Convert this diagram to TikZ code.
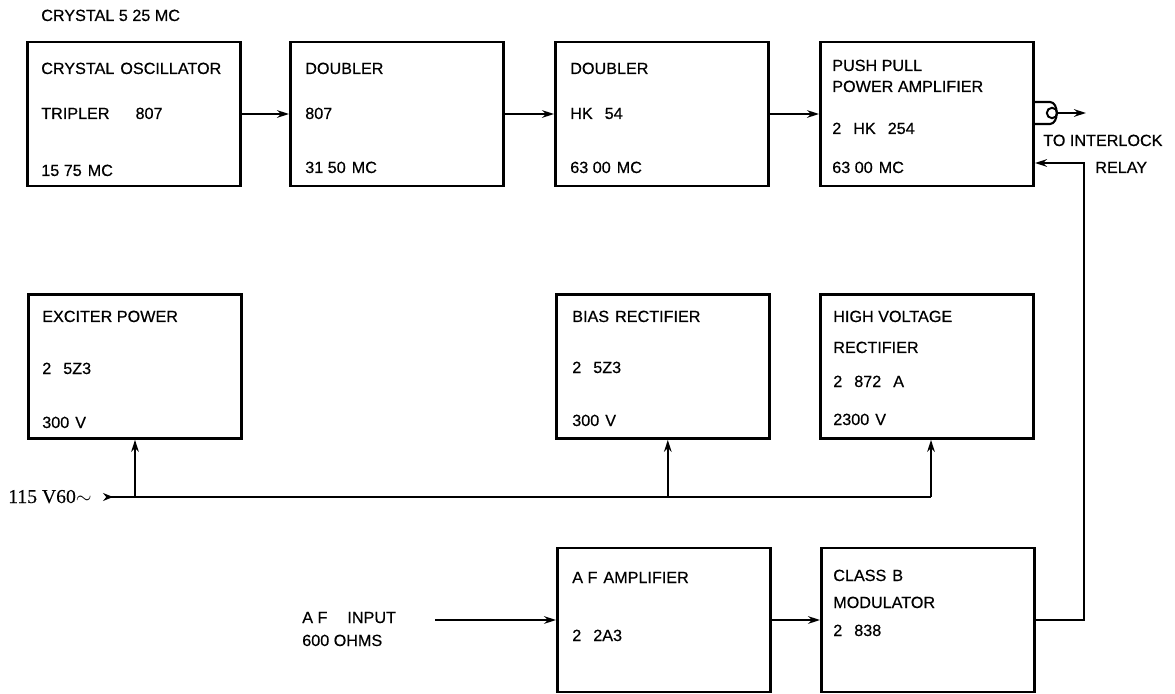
\documentclass[tikz,border=0pt]{standalone}
\usepackage{fontspec}
\setmainfont{Liberation Sans}[FakeBold=0.5]
\newfontfamily\mainsfont{Liberation Serif}[FakeBold=0.3]
\usetikzlibrary{arrows.meta}
\tikzset{
  blockbox/.style={draw, line width=1.9pt, minimum width=5.33cm, minimum height=3.6cm,
                   inner sep=0pt},
  boxtext/.style={font=\fontsize{11.5}{13}\selectfont, inner sep=0pt, anchor=base west},
  wire/.style={line width=1.5pt},
  arr/.style={wire, -{Stealth[length=3mm, width=1.9mm]}},
}

\begin{document}
\begin{tikzpicture}[x=0.025cm, y=-0.025cm]
    \useasboundingbox (0,0) rectangle (1175,694);
    % transmitter chain
    \node[blockbox] (osc) at (134, 114) {};
    \node[blockbox] (dbla) at (397, 114) {};
    \node[blockbox] (dblb) at (662, 114) {};
    \node[blockbox] (pa) at (927, 114) {};
    % power supplies
    \node[blockbox] (exc) at (135, 366.5) {};
    \node[blockbox] (bias) at (663, 366.5) {};
    \node[blockbox] (hv) at (927, 366.5) {};
    % audio
    \node[blockbox] (afamp) at (664, 620) {};
    \node[blockbox] (modb) at (928, 620) {};

    \node[boxtext] (xtal) at (41, 21) {CRYSTAL 5 25 MC};
    \node[boxtext] (osc1) at (41, 74) {CRYSTAL\hspace{1.5mm}OSCILLATOR};
    \node[boxtext] (osc2) at (41, 119) {TRIPLER\hspace{6.5mm}807};
    \node[boxtext] (osc3) at (41, 176) {15 75\hspace{1.5mm}MC};
    \node[boxtext] (dbla1) at (305, 74) {DOUBLER};
    \node[boxtext] (dbla2) at (305, 119) {807};
    \node[boxtext] (dbla3) at (305, 173) {31 50\hspace{1.5mm}MC};
    \node[boxtext] (dblb1) at (570, 74) {DOUBLER};
    \node[boxtext] (dblb2) at (570, 119) {HK\hspace{3mm}54};
    \node[boxtext] (dblb3) at (570, 173) {63 00\hspace{1.5mm}MC};
    \node[boxtext] (pa1) at (832, 71) {PUSH PULL};
    \node[boxtext] (pa2) at (832, 92) {POWER AMPLIFIER};
    \node[boxtext] (pa3) at (832, 134) {2\hspace{3mm}HK\hspace{3mm}254};
    \node[boxtext] (pa4) at (832, 173) {63 00\hspace{1.5mm}MC};
    \node[boxtext] (exc1) at (42, 322) {EXCITER POWER};
    \node[boxtext] (exc2) at (42, 374) {2\hspace{3mm}5Z3};
    \node[boxtext] (exc3) at (42, 428) {300\hspace{1.5mm}V};
    \node[boxtext] (bias1) at (572, 322) {BIAS\hspace{1.5mm}RECTIFIER};
    \node[boxtext] (bias2) at (572, 373) {2\hspace{3mm}5Z3};
    \node[boxtext] (bias3) at (572, 426) {300\hspace{1.5mm}V};
    \node[boxtext] (hv1) at (833, 322) {HIGH VOLTAGE};
    \node[boxtext] (hv2) at (833, 353) {RECTIFIER};
    \node[boxtext] (hv3) at (833, 387) {2\hspace{3mm}872\hspace{3mm}A};
    \node[boxtext] (hv4) at (833, 425) {2300\hspace{1.5mm}V};
    \node[boxtext] (af1) at (572, 583) {A F\hspace{1.5mm}AMPLIFIER};
    \node[boxtext] (af2) at (572, 641) {2\hspace{3mm}2A3};
    \node[boxtext] (mod1) at (833, 581) {CLASS\hspace{1.5mm}B};
    \node[boxtext] (mod2) at (833, 608) {MODULATOR};
    \node[boxtext] (mod3) at (833, 636) {2\hspace{3mm}838};
    \node[boxtext] (afin1) at (302, 623) {A F\hspace{5mm}INPUT};
    \node[boxtext] (afin2) at (302, 646) {600 OHMS};
    \node[boxtext] (relay1) at (1043, 146) {TO INTERLOCK};
    \node[boxtext] (relay2) at (1095, 173) {RELAY};
    \node[boxtext, font=\mainsfont\fontsize{14}{15}\selectfont] (ac) at (8, 503) {115 V60$\sim$};

    \draw[arr] (osc.east) -- (dbla.west);
    \draw[arr] (dbla.east) -- (dblb.west);
    \draw[arr] (dblb.east) -- (pa.west);

    % plug to interlock relay
    \node[draw, circle, line width=1.4pt, minimum size=0.26cm, inner sep=0pt] (plug) at (1052, 113) {};
    \coordinate (relayout) at (1086, 113);
    \draw[wire] ([yshift=0.3cm]pa.east) -- ++(15,0) .. controls +(9,0) and +(9,0) .. ++(0,22) -- ([yshift=-0.25cm]pa.east);
    \draw[arr] (plug.east) -- (relayout);

    % 115 V mains
    \coordinate (mains) at (103, 497);
    \coordinate (mainsend) at (931, 497);
    \draw[wire, {Stealth[length=2.5mm, width=2mm, reversed]}-] (mains) -- (mainsend);
    \draw[arr] (exc.south |- mains) -- (exc.south);
    \draw[arr] ([xshift=0.12cm]bias.south |- mains) -- ([xshift=0.12cm]bias.south);
    \draw[arr] (mainsend) -- (mainsend |- hv.south);

    % audio chain
    \coordinate (afin) at (435, 620);
    \draw[arr] (afin) -- (afamp.west);
    \draw[arr] (afamp.east) -- (modb.west);
    \coordinate (retup) at (1084, 163);
    \draw[arr] (modb.east) -| (retup) -- (retup -| pa.east);
\end{tikzpicture}
\end{document}
